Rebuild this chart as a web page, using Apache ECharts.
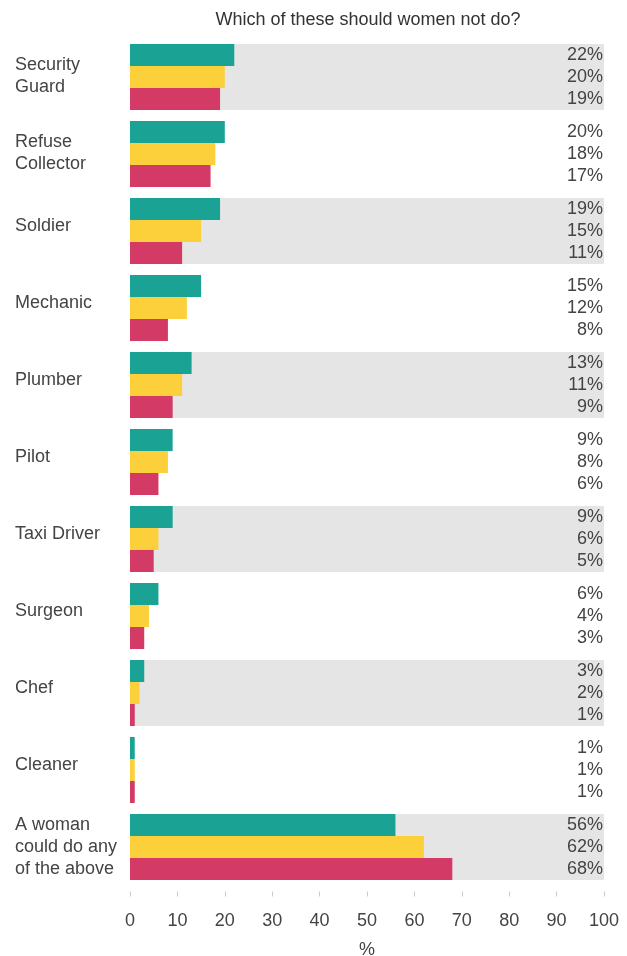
<!DOCTYPE html>
<html>
<head>
<meta charset="utf-8">
<script src="https://cdn.jsdelivr.net/npm/echarts@6/dist/echarts.min.js"></script>
<style>
  html, body { margin: 0; padding: 0; background: #fff; }
  #chart { width: 627px; height: 956px; }
</style>
</head>
<body>
<div id="chart"></div>
<script>
// Survey answers: share of respondents per job, three respondent groups
const categories = [
  'Security\nGuard', 'Refuse\nCollector', 'Soldier', 'Mechanic', 'Plumber',
  'Pilot', 'Taxi Driver', 'Surgeon', 'Chef', 'Cleaner',
  'A woman\ncould do any\nof the above'
];
const groupA = [22, 20, 19, 15, 13, 9, 9, 6, 3, 1, 56];
const groupB = [20, 18, 15, 12, 11, 8, 6, 4, 2, 1, 62];
const groupC = [19, 17, 11, 8, 9, 6, 5, 3, 1, 1, 68];
const xTicks = [0, 10, 20, 30, 40, 50, 60, 70, 80, 90, 100];

const colors = ['#1aa394', '#fbd03a', '#d33a65'];
const bandColor = '#e4e5e4';
const textColor = '#444';
const fontFamily = '"Liberation Sans", Arial, sans-serif';
const axisMax = xTicks[xTicks.length - 1];

const chart = echarts.init(document.getElementById('chart'));

// Grey row bands on alternating categories, drawn on a hidden twin axis
const series = [{
  type: 'bar',
  yAxisIndex: 1,
  data: categories.map((c, i) => (i % 2 === 0 ? axisMax : '-')),
  itemStyle: { color: bandColor },
  barCategoryGap: '14.3%',
  z: 1,
  silent: true
}];

// Each group: a coloured bar plus an invisible remainder bar stacked up to
// the axis maximum, which carries the value label at the right edge.
[groupA, groupB, groupC].forEach((values, g) => {
  const stack = 'g' + g;
  series.push({
    type: 'bar',
    stack,
    data: values,
    itemStyle: { color: colors[g] },
    barCategoryGap: '14.3%',
    barGap: '0%',
    z: 3,
    silent: true
  });
  series.push({
    type: 'bar',
    stack,
    data: values.map(v => ({ value: axisMax - v, shown: v })),
    itemStyle: { color: 'rgba(0,0,0,0)' },
    barCategoryGap: '14.3%',
    barGap: '0%',
    z: 3,
    silent: true,
    label: {
      show: true,
      position: 'insideRight',
      distance: 1,
      color: textColor,
      fontSize: 18,
      fontFamily,
      formatter: p => p.data.shown + '%'
    }
  });
});

const categoryAxisBase = {
  type: 'category',
  data: categories,
  inverse: true,
  axisLine: { show: false },
  axisTick: { show: false }
};

const labelText = { color: textColor, fontSize: 18, lineHeight: 22, fontFamily };

// Shorter category names sit slightly above the row centre
function categoryLabel(value) {
  const lines = value.split('\n');
  if (lines.length === 1) return '{one|' + value + '}';
  if (lines.length === 2) return lines.map(l => '{two|' + l + '}').join('\n');
  return value;
}

chart.setOption({
  animation: false,
  title: {
    text: 'Which of these should women not do?',
    left: 363,
    textAlign: 'center',
    top: 6,
    textStyle: { color: '#333', fontSize: 18, fontWeight: 'normal', fontFamily }
  },
  grid: {
    left: 130, right: 23, top: 38.5, bottom: 70.5,
    containLabel: false,
    outerBoundsMode: 'none'
  },
  xAxis: {
    type: 'value',
    min: 0,
    max: axisMax,
    interval: 10,
    offset: 6,
    axisLine: { show: false },
    axisTick: { show: true, length: 5, lineStyle: { color: '#ccc' } },
    splitLine: { show: false },
    axisLabel: { color: textColor, fontSize: 18, fontFamily, margin: 21 },
    name: '%',
    nameLocation: 'middle',
    nameGap: 50,
    nameTextStyle: { color: textColor, fontSize: 18, fontFamily }
  },
  yAxis: [
    Object.assign({}, categoryAxisBase, {
      axisLabel: Object.assign({
        align: 'left',
        margin: 115,
        formatter: categoryLabel,
        rich: {
          one: Object.assign({ padding: [0, 0, 9, 0] }, labelText),
          two: Object.assign({ padding: [0, 0, 2, 0] }, labelText)
        }
      }, labelText)
    }),
    Object.assign({}, categoryAxisBase, { show: false })
  ],
  series
});
</script>
</body>
</html>
